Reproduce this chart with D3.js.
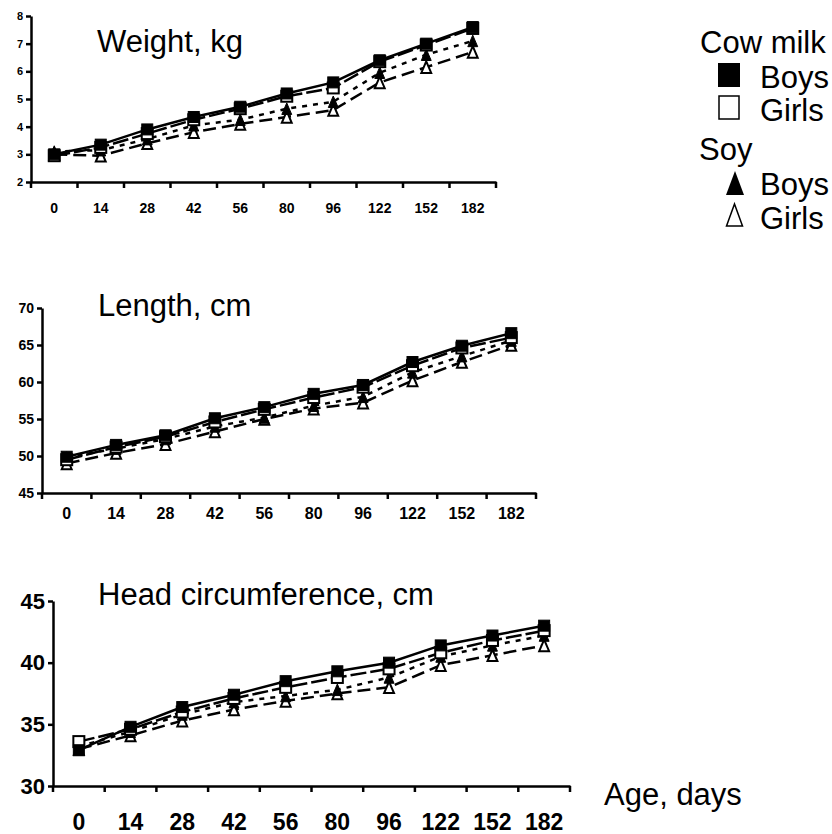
<!DOCTYPE html>
<html><head><meta charset="utf-8">
<script src="https://cdn.jsdelivr.net/npm/d3@7"></script>
<style>
body{margin:0;background:#fff;}
text{font-family:"Liberation Sans",Arial,sans-serif;fill:#000;}
</style></head>
<body>
<svg id="c" width="832" height="834"></svg>
<script>
const ages = ["0","14","28","42","56","80","96","122","152","182"];

const weightCowBoys  = [3.0, 3.35, 3.9, 4.35, 4.72, 5.2, 5.6, 6.4, 7.0, 7.6];
const weightCowGirls = [2.95, 3.25, 3.75, 4.25, 4.65, 5.1, 5.4, 6.35, 6.95, 7.55];
const weightSoyBoys  = [3.1, 3.15, 3.55, 4.05, 4.25, 4.65, 4.9, 5.95, 6.6, 7.1];
const weightSoyGirls = [3.0, 2.95, 3.4, 3.8, 4.1, 4.35, 4.6, 5.6, 6.15, 6.7];

const lengthCowBoys  = [49.9, 51.5, 52.8, 55.1, 56.6, 58.4, 59.6, 62.7, 64.9, 66.6];
const lengthCowGirls = [49.5, 51.2, 52.6, 54.6, 56.3, 57.9, 59.3, 62.2, 64.6, 66.0];
const lengthSoyBoys  = [49.8, 51.0, 52.3, 54.0, 55.2, 56.8, 58.0, 61.3, 63.5, 65.6];
const lengthSoyGirls = [49.0, 50.4, 51.6, 53.3, 55.0, 56.4, 57.2, 60.2, 62.7, 65.0];

const headCowBoys  = [32.9, 34.8, 36.4, 37.4, 38.5, 39.3, 40.0, 41.4, 42.2, 43.0];
const headCowGirls = [33.6, 34.6, 36.0, 37.1, 38.0, 38.8, 39.5, 40.8, 41.8, 42.6];
const headSoyBoys  = [33.2, 34.4, 35.8, 36.8, 37.3, 37.8, 38.8, 40.5, 41.4, 42.2];
const headSoyGirls = [33.0, 34.1, 35.3, 36.2, 36.9, 37.5, 38.0, 39.8, 40.6, 41.4];

const weightTicks = [2,3,4,5,6,7,8];
const lengthTicks = [45,50,55,60,65,70];
const headTicks = [30,35,40,45];

const seriesStyle = [
  {key:"soyGirls", marker:"tri", fill:"#fff", dash:"13,6"},
  {key:"soyBoys", marker:"tri", fill:"#000", dash:"5,6"},
  {key:"cowGirls", marker:"sq", fill:"#fff", dash:"16,4"},
  {key:"cowBoys", marker:"sq", fill:"#000", dash:null}
];

const svg = d3.select("#c");

const panels = [
  {title:"Weight, kg", tx:97, ty:52, x0:31, x1:496, yTop:16, yBot:182, domain:[2,8], ticks:weightTicks,
   yFont:11, xFont:14, yLabelX:-5, xLabelDy:31, ms:11,
   data:{cowBoys:weightCowBoys,cowGirls:weightCowGirls,soyBoys:weightSoyBoys,soyGirls:weightSoyGirls}},
  {title:"Length, cm", tx:98, ty:316, x0:42, x1:536, yTop:308, yBot:493, domain:[45,70], ticks:lengthTicks,
   yFont:14, xFont:16, yLabelX:-5, xLabelDy:26, ms:11,
   data:{cowBoys:lengthCowBoys,cowGirls:lengthCowGirls,soyBoys:lengthSoyBoys,soyGirls:lengthSoyGirls}},
  {title:"Head circumference, cm", tx:98, ty:605, x0:53, x1:570, yTop:601, yBot:786, domain:[30,45], ticks:headTicks,
   yFont:22, xFont:23, yLabelX:-7, xLabelDy:44, ms:11,
   data:{cowBoys:headCowBoys,cowGirls:headCowGirls,soyBoys:headSoyBoys,soyGirls:headSoyGirls}}
];

function drawMarker(g, type, cx, cy, s, fill){
  if(type==="sq"){
    g.append("rect").attr("x",cx-s/2).attr("y",cy-s/2).attr("width",s).attr("height",s)
      .attr("fill",fill).attr("stroke","#000").attr("stroke-width",fill==="#000"?1:2);
  } else {
    const h=s*1.05, w=s*0.9;
    g.append("path").attr("d",`M${cx},${cy-h/2}L${cx+w/2},${cy+h/2}L${cx-w/2},${cy+h/2}Z`)
      .attr("fill",fill).attr("stroke","#000").attr("stroke-width",fill==="#000"?1:2).attr("stroke-linejoin","miter");
  }
}

panels.forEach(p=>{
  const x = d3.scaleBand().domain(ages).range([p.x0,p.x1]).padding(0);
  const y = d3.scaleLinear().domain(p.domain).range([p.yBot,p.yTop]);
  const g = svg.append("g");

  // title
  g.append("text").attr("x",p.tx).attr("y",p.ty).attr("font-size",31).text(p.title);

  // y axis
  const ya = g.append("g").attr("transform",`translate(${p.x0},0)`)
    .call(d3.axisLeft(y).tickValues(p.ticks).tickSizeInner(5).tickSizeOuter(0).tickPadding(3).tickFormat(d3.format("d")));
  ya.select(".domain").attr("stroke","#000").attr("stroke-width",2.5);
  ya.selectAll(".tick line").attr("stroke","#000").attr("stroke-width",2.5);
  ya.selectAll(".tick text").attr("font-size",p.yFont).attr("font-weight","bold")
    .attr("font-family","Liberation Sans, Arial, sans-serif").attr("fill","#000");

  // x axis (labels)
  const xa = g.append("g").attr("transform",`translate(0,${p.yBot})`)
    .call(d3.axisBottom(x).tickSize(0).tickPadding(0));
  xa.select(".domain").attr("stroke","#000").attr("stroke-width",2.5);
  xa.selectAll(".tick text").attr("font-size",p.xFont).attr("font-weight","bold")
    .attr("font-family","Liberation Sans, Arial, sans-serif").attr("fill","#000")
    .attr("dy",null).attr("y",p.xLabelDy);
  // boundary ticks
  const bounds = ages.map(a=>x(a)).concat([x(ages[ages.length-1])+x.bandwidth()]);
  g.selectAll(null).data(bounds).enter().append("line")
    .attr("x1",d=>d).attr("x2",d=>d).attr("y1",p.yBot).attr("y2",p.yBot+6)
    .attr("stroke","#000").attr("stroke-width",2.5);

  const cx = a => x(a)+x.bandwidth()/2;
  const line = d3.line().x((d,i)=>cx(ages[i])).y(d=>y(d));

  seriesStyle.forEach(s=>{
    const vals = p.data[s.key];
    g.append("path").attr("d",line(vals)).attr("fill","none").attr("stroke","#000")
      .attr("stroke-width",2.5).attr("stroke-dasharray",s.dash);
  });
  seriesStyle.forEach(s=>{
    const vals = p.data[s.key];
    vals.forEach((v,i)=>drawMarker(g,s.marker,cx(ages[i]),y(v),p.ms,s.fill));
  });
});

// x axis title
svg.append("text").attr("x",604).attr("y",805).attr("font-size",31).text("Age, days");

// legend
const lg = svg.append("g");
lg.append("text").attr("x",700).attr("y",53).attr("font-size",31).text("Cow milk");
lg.append("rect").attr("x",718).attr("y",63).attr("width",22).attr("height",24).attr("fill","#000");
lg.append("text").attr("x",760).attr("y",88).attr("font-size",31).text("Boys");
lg.append("rect").attr("x",719).attr("y",96).attr("width",20).attr("height",23).attr("fill","#fff").attr("stroke","#000").attr("stroke-width",1.5);
lg.append("text").attr("x",760).attr("y",121).attr("font-size",31).text("Girls");
lg.append("text").attr("x",699).attr("y",160).attr("font-size",31).text("Soy");
lg.append("path").attr("d","M735,171L744,195L726,195Z").attr("fill","#000");
lg.append("text").attr("x",760).attr("y",195).attr("font-size",31).text("Boys");
lg.append("path").attr("d","M734.5,204L742.5,226L726.5,226Z").attr("fill","#fff").attr("stroke","#000").attr("stroke-width",1.5);
lg.append("text").attr("x",760).attr("y",229).attr("font-size",31).text("Girls");
</script>
</body></html>
